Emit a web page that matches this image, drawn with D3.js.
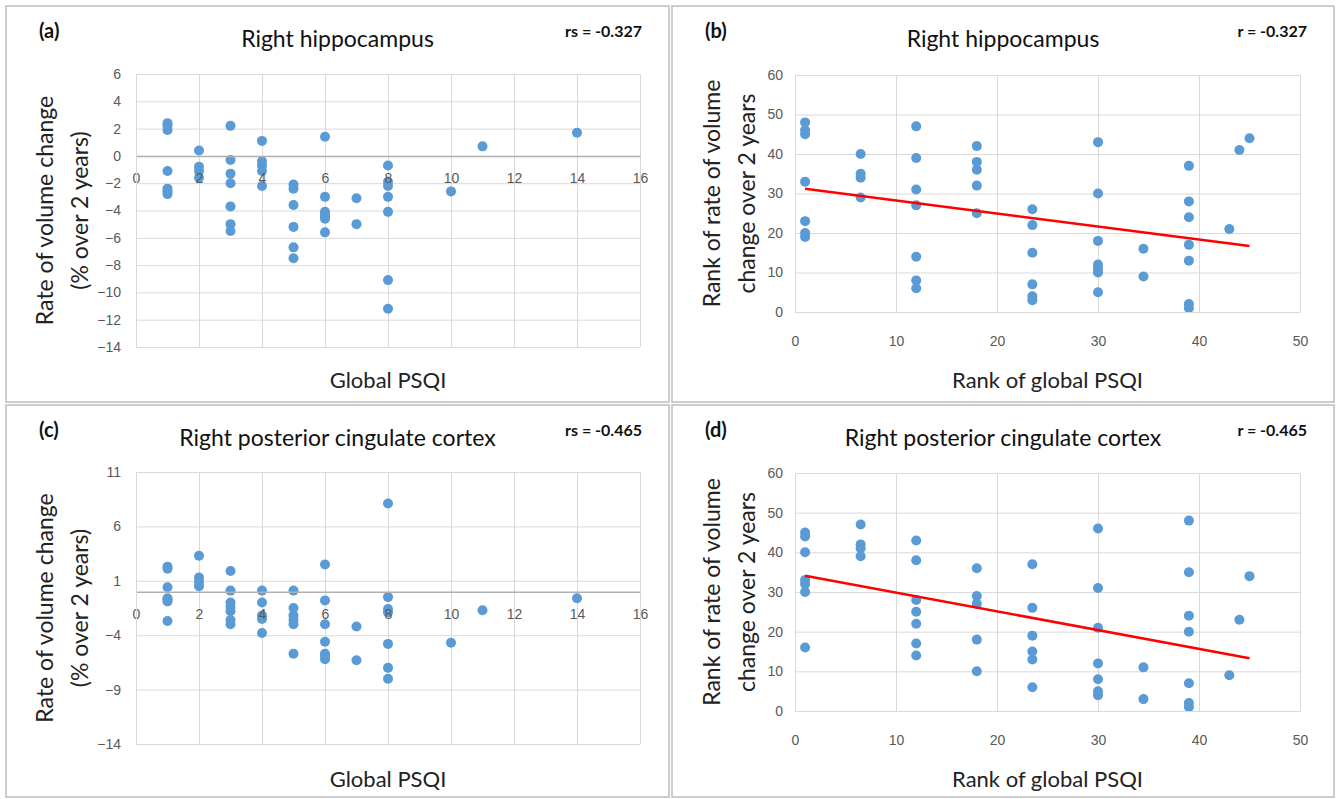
<!DOCTYPE html>
<html>
<head>
<meta charset="utf-8">
<script src="https://cdn.jsdelivr.net/npm/d3@7"></script>
<style>
  body { margin: 0; background: #fff; }
  svg { display: block; font-family: Lato, "Noto Sans", sans-serif; }
</style>
</head>
<body>
<script>
// global PSQI score and its rank (shared by both rows)
var psqi = [1,1,1,1,1,1,1, 2,2,2,2, 3,3,3,3,3,3,3, 4,4,4,4,4, 5,5,5,5,5,5,
  6,6,6,6,6,6,6, 7,7, 8,8,8,8,8,8,8, 10, 11, 14];
var psqiRank = [1,1,1,1,1,1,1, 6.5,6.5,6.5,6.5, 12,12,12,12,12,12,12, 18,18,18,18,18,
  23.5,23.5,23.5,23.5,23.5,23.5, 30,30,30,30,30,30,30, 34.5,34.5,
  39,39,39,39,39,39,39, 43, 44, 45];

// (a) right hippocampus, % volume change over 2 years
var hippoRate = [2.4,2.2,1.9,-1.1,-2.4,-2.6,-2.8, 0.4,-0.8,-1.1,-1.6,
  2.2,-0.3,-1.3,-2.0,-3.7,-5.0,-5.5, 1.1,-0.4,-0.7,-1.1,-2.2,
  -2.1,-2.4,-3.6,-5.2,-6.7,-7.5, 1.4,-3.0,-4.1,-4.3,-4.5,-4.6,-5.6,
  -3.1,-5.0, -0.7,-1.9,-2.2,-3.0,-4.1,-9.1,-11.2, -2.6, 0.7, 1.7];
// (b) rank of hippocampus change
var hippoRank = [48,46,45,33,23,20,19, 40,35,34,29, 47,39,31,27,14,8,6,
  42,38,36,32,25, 26,22,15,7,4,3, 43,30,18,12,11,10,5, 16,9,
  37,28,24,17,13,2,1, 21, 41, 44];
// (c) right posterior cingulate cortex, % volume change
var pccRate = [2.3,2.1,0.4,-0.6,-0.7,-0.9,-2.7, 3.3,1.3,0.9,0.5,
  1.9,0.1,-1.0,-1.4,-1.8,-2.6,-3.0, 0.1,-1.0,-2.2,-2.5,-3.8,
  0.1,-1.5,-2.2,-2.6,-3.0,-5.7, 2.5,-0.8,-3.0,-4.6,-5.7,-5.9,-6.2,
  -3.2,-6.3, 8.1,-0.5,-1.6,-1.9,-4.8,-7.0,-8.0, -4.7, -1.7, -0.6];
// (d) rank of posterior cingulate change
var pccRank = [45,44,40,33,32,30,16, 47,42,41,39, 43,38,28,25,22,17,14,
  36,29,27,18,10, 37,26,19,15,13,6, 46,31,21,12,8,5,4, 11,3,
  48,35,24,20,7,2,1, 9, 23, 34];

// linear fit ends
var fitHippo = [[1, 31.2], [45, 16.7]];
var fitPcc = [[1, 34.1], [45, 13.3]];

var ticksPsqi = [0,2,4,6,8,10,12,14,16];
var ticksHippo = [-14,-12,-10,-8,-6,-4,-2,0,2,4,6];
var ticksPcc = [-14,-9,-4,1,6,11];
var ticksRankX = [0,10,20,30,40,50];
var ticksRankY = [0,10,20,30,40,50,60];

var svg = d3.select("body").append("svg")
  .attr("width", 1337)
  .attr("height", 799);

var panels = [
  {frame: [6, 6, 669, 402], plot: [136, 640, 74, 347], xs: psqi, ys: hippoRate,
   xTicks: ticksPsqi, yTicks: ticksHippo, cross: true, fit: null,
   tag: "(a)", title: "Right hippocampus", stat: "rs = -0.327",
   xTitle: "Global PSQI", yTitle: ["Rate of volume change", "(% over 2 years)"]},
  {frame: [672, 6, 1334, 402], plot: [795, 1300, 75, 312], xs: psqiRank, ys: hippoRank,
   xTicks: ticksRankX, yTicks: ticksRankY, cross: false, fit: fitHippo,
   tag: "(b)", title: "Right hippocampus", stat: "r = -0.327",
   xTitle: "Rank of global PSQI", yTitle: ["Rank of rate of volume", "change over 2 years"]},
  {frame: [6, 405, 669, 797], plot: [136, 640, 472, 744], xs: psqi, ys: pccRate,
   xTicks: ticksPsqi, yTicks: ticksPcc, cross: true, fit: null,
   tag: "(c)", title: "Right posterior cingulate cortex", stat: "rs = -0.465",
   xTitle: "Global PSQI", yTitle: ["Rate of volume change", "(% over 2 years)"]},
  {frame: [672, 405, 1334, 797], plot: [795, 1300, 473, 711], xs: psqiRank, ys: pccRank,
   xTicks: ticksRankX, yTicks: ticksRankY, cross: false, fit: fitPcc,
   tag: "(d)", title: "Right posterior cingulate cortex", stat: "r = -0.465",
   xTitle: "Rank of global PSQI", yTitle: ["Rank of rate of volume", "change over 2 years"]}
];

panels.forEach(function(p) {
  var g = svg.append("g");
  var l = p.plot[0], r = p.plot[1], t = p.plot[2], b = p.plot[3];

  g.append("rect")
    .attr("x", p.frame[0]).attr("y", p.frame[1])
    .attr("width", p.frame[2] - p.frame[0]).attr("height", p.frame[3] - p.frame[1])
    .attr("fill", "none").attr("stroke", "#bdbdbd").attr("stroke-width", 1.5);

  var x = d3.scaleLinear().domain(d3.extent(p.xTicks)).range([l, r]);
  var y = d3.scaleLinear().domain(d3.extent(p.yTicks)).range([b, t]);

  // grid
  g.append("g").attr("transform", "translate(0," + b + ")")
    .call(d3.axisBottom(x).tickValues(p.xTicks).tickSize(-(b - t)).tickFormat(""))
    .call(function(s) { s.select(".domain").remove(); })
    .selectAll("line").attr("stroke", "#d9d9d9");
  g.append("g").attr("transform", "translate(" + l + ",0)")
    .call(d3.axisLeft(y).tickValues(p.yTicks).tickSize(-(r - l)).tickFormat(""))
    .call(function(s) { s.select(".domain").remove(); })
    .selectAll("line").attr("stroke", "#d9d9d9");

  // points
  g.selectAll("circle").data(p.xs).enter().append("circle")
    .attr("cx", function(d) { return x(d); })
    .attr("cy", function(d, i) { return y(p.ys[i]); })
    .attr("r", 5)
    .style("fill", "#5b9bd5");

  if (p.fit) {
    g.append("path")
      .attr("d", d3.line().x(function(d) { return x(d[0]); }).y(function(d) { return y(d[1]); })(p.fit))
      .attr("fill", "none").attr("stroke", "#ff0000").attr("stroke-width", 2.5);
  }

  // x axis line & labels (crosses at 0 on the raw-score panels), drawn over the dots
  var xAxisY = p.cross ? y(0) : b;
  var xa = g.append("g").attr("transform", "translate(0," + xAxisY + ")")
    .call(d3.axisBottom(x).tickValues(p.xTicks).tickSize(0).tickPadding(p.cross ? 17 : 24));
  xa.select(".domain").attr("stroke", p.cross ? "#b0b0b0" : "#d9d9d9").attr("stroke-width", p.cross ? 1.5 : 1);
  xa.selectAll("text").attr("font-size", 14).attr("fill", "#595959").attr("font-family", null);

  var ya = g.append("g").attr("transform", "translate(" + l + ",0)")
    .call(d3.axisLeft(y).tickValues(p.yTicks).tickSize(0).tickPadding(p.cross ? 15 : 12));
  ya.select(".domain").attr("stroke", "#d9d9d9");
  ya.selectAll("text").attr("font-size", 14).attr("fill", "#595959").attr("font-family", null);

  // texts
  var top = p.frame[1];
  var mid = (p.frame[0] + p.frame[2]) / 2;
  g.append("text").text(p.tag)
    .attr("x", p.frame[0] + 33).attr("y", top + 25).attr("dy", "0.35em")
    .attr("font-size", 20).attr("font-weight", "bold").attr("fill", "#111");
  g.append("text").text(p.title)
    .attr("x", mid).attr("y", top + 33).attr("dy", "0.35em").attr("text-anchor", "middle")
    .attr("font-size", 23).attr("fill", "#111");
  g.append("text").text(p.stat)
    .attr("x", p.frame[2] - 27).attr("y", top + 25).attr("dy", "0.35em").attr("text-anchor", "end")
    .attr("font-size", 16).attr("font-weight", "bold").attr("fill", "#111");
  g.append("text").text(p.xTitle)
    .attr("x", (l + r) / 2).attr("y", top + 374).attr("dy", "0.35em").attr("text-anchor", "middle")
    .attr("font-size", 22).attr("fill", "#222");

  var yt = g.append("text")
    .attr("transform", "translate(" + (p.frame[0] + (p.cross ? 39 : 40)) + "," + ((t + b) / 2) + ") rotate(-90)")
    .attr("text-anchor", "middle").attr("font-size", 23).attr("fill", "#222");
  p.yTitle.forEach(function(line, i) {
    yt.append("tspan").text(line).attr("x", 0).attr("dy", i === 0 ? "0.35em" : "1.5em");
  });
});
</script>
</body>
</html>
